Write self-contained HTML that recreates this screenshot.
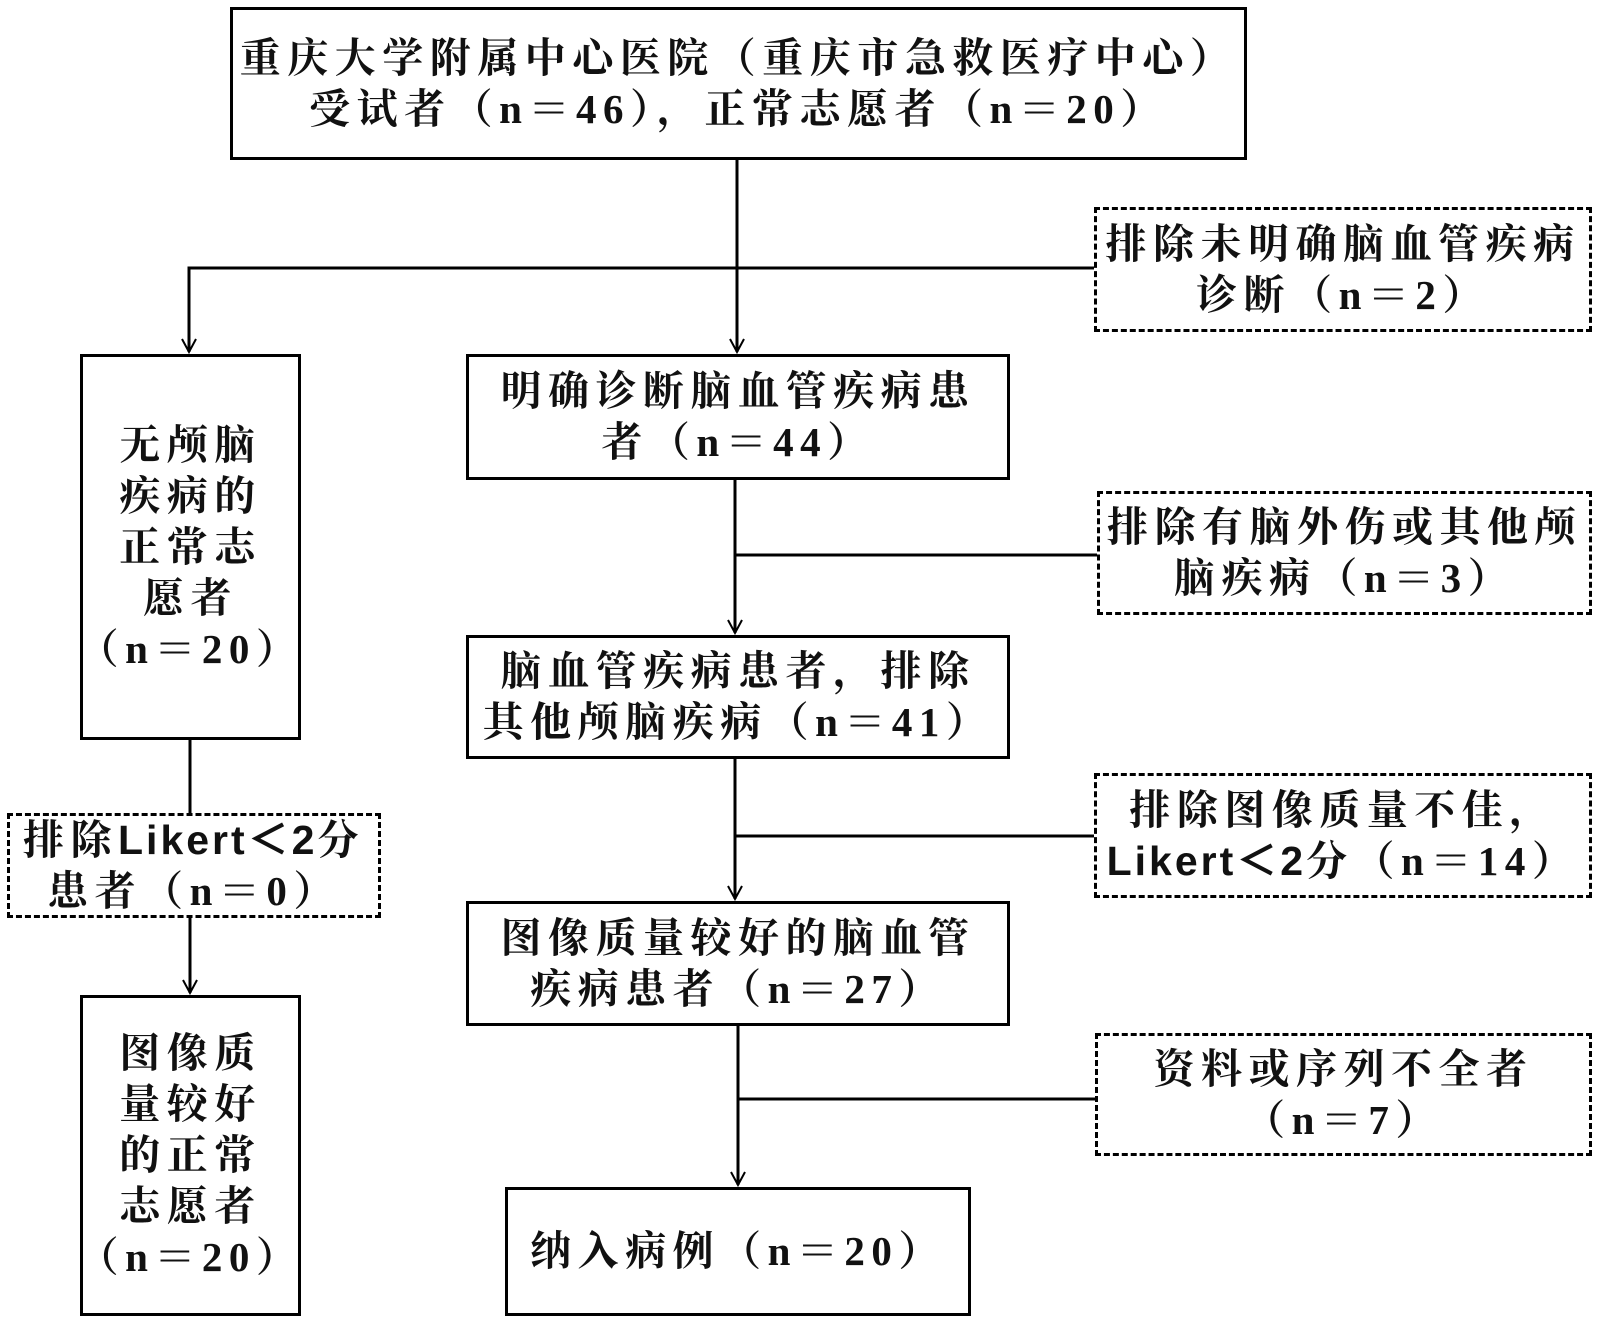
<!DOCTYPE html>
<html><head><meta charset="utf-8"><style>
body{margin:0;width:1600px;height:1325px;background:#fff;position:relative;overflow:hidden;font-family:"Liberation Serif","Noto Serif CJK SC",serif;}
.b{position:absolute;box-sizing:border-box;border:3px solid #000;display:flex;align-items:center;justify-content:center;text-align:center;font-size:41px;font-weight:bold;letter-spacing:6.5px;line-height:51px;color:#111;white-space:nowrap;}
.d{border:3px dashed #000;}
svg{position:absolute;left:0;top:0;}
.s{font-family:"Liberation Sans","Noto Sans CJK SC",sans-serif;letter-spacing:3px;}
</style></head><body>
<svg width="1600" height="1325">
<defs><marker id="a" markerWidth="16" markerHeight="16" refX="14" refY="8" orient="auto" markerUnits="userSpaceOnUse"><path d="M1,1 L14,8 L1,15" fill="none" stroke="#000" stroke-width="2"/></marker></defs>
<g stroke="#000" stroke-width="3" fill="none">
<line x1="737" y1="160" x2="737" y2="352" marker-end="url(#a)"/>
<polyline points="1094,268 189,268 189,352" marker-end="url(#a)"/>
<line x1="735" y1="480" x2="735" y2="633" marker-end="url(#a)"/>
<line x1="735" y1="555" x2="1097" y2="555"/>
<line x1="735" y1="759" x2="735" y2="899" marker-end="url(#a)"/>
<line x1="735" y1="836" x2="1094" y2="836"/>
<line x1="738" y1="1026" x2="738" y2="1185" marker-end="url(#a)"/>
<line x1="738" y1="1099" x2="1095" y2="1099"/>
<line x1="190" y1="740" x2="190" y2="813"/>
<line x1="190" y1="918" x2="190" y2="993" marker-end="url(#a)"/>
</g></svg>
<div class="b" style="left:230px;top:7px;width:1017px;height:153px;"><div>重庆大学附属中心医院（重庆市急救医疗中心）<br>受试者（n＝46），正常志愿者（n＝20）</div></div>
<div class="b d" style="left:1094px;top:207px;width:498px;height:125px;"><div>排除未明确脑血管疾病<br>诊断（n＝2）</div></div>
<div class="b" style="left:466px;top:354px;width:544px;height:126px;"><div>明确诊断脑血管疾病患<br>者（n＝44）</div></div>
<div class="b" style="left:80px;top:354px;width:221px;height:386px;"><div>无颅脑<br>疾病的<br>正常志<br>愿者<br>（n＝20）</div></div>
<div class="b d" style="left:1097px;top:491px;width:495px;height:124px;"><div>排除有脑外伤或其他颅<br>脑疾病（n＝3）</div></div>
<div class="b" style="left:466px;top:635px;width:544px;height:124px;"><div>脑血管疾病患者，排除<br>其他颅脑疾病（n＝41）</div></div>
<div class="b d" style="left:7px;top:813px;width:374px;height:105px;"><div>排除<span class="s">Likert＜2</span>分<br>患者（n＝0）</div></div>
<div class="b d" style="left:1094px;top:773px;width:498px;height:125px;"><div>排除图像质量不佳，<br><span class="s">Likert＜2</span>分（n＝14）</div></div>
<div class="b" style="left:466px;top:901px;width:544px;height:125px;"><div>图像质量较好的脑血管<br>疾病患者（n＝27）</div></div>
<div class="b" style="left:80px;top:995px;width:221px;height:321px;"><div>图像质<br>量较好<br>的正常<br>志愿者<br>（n＝20）</div></div>
<div class="b d" style="left:1095px;top:1033px;width:497px;height:123px;"><div>资料或序列不全者<br>（n＝7）</div></div>
<div class="b" style="left:505px;top:1187px;width:466px;height:129px;"><div>纳入病例（n＝20）</div></div>
</body></html>
